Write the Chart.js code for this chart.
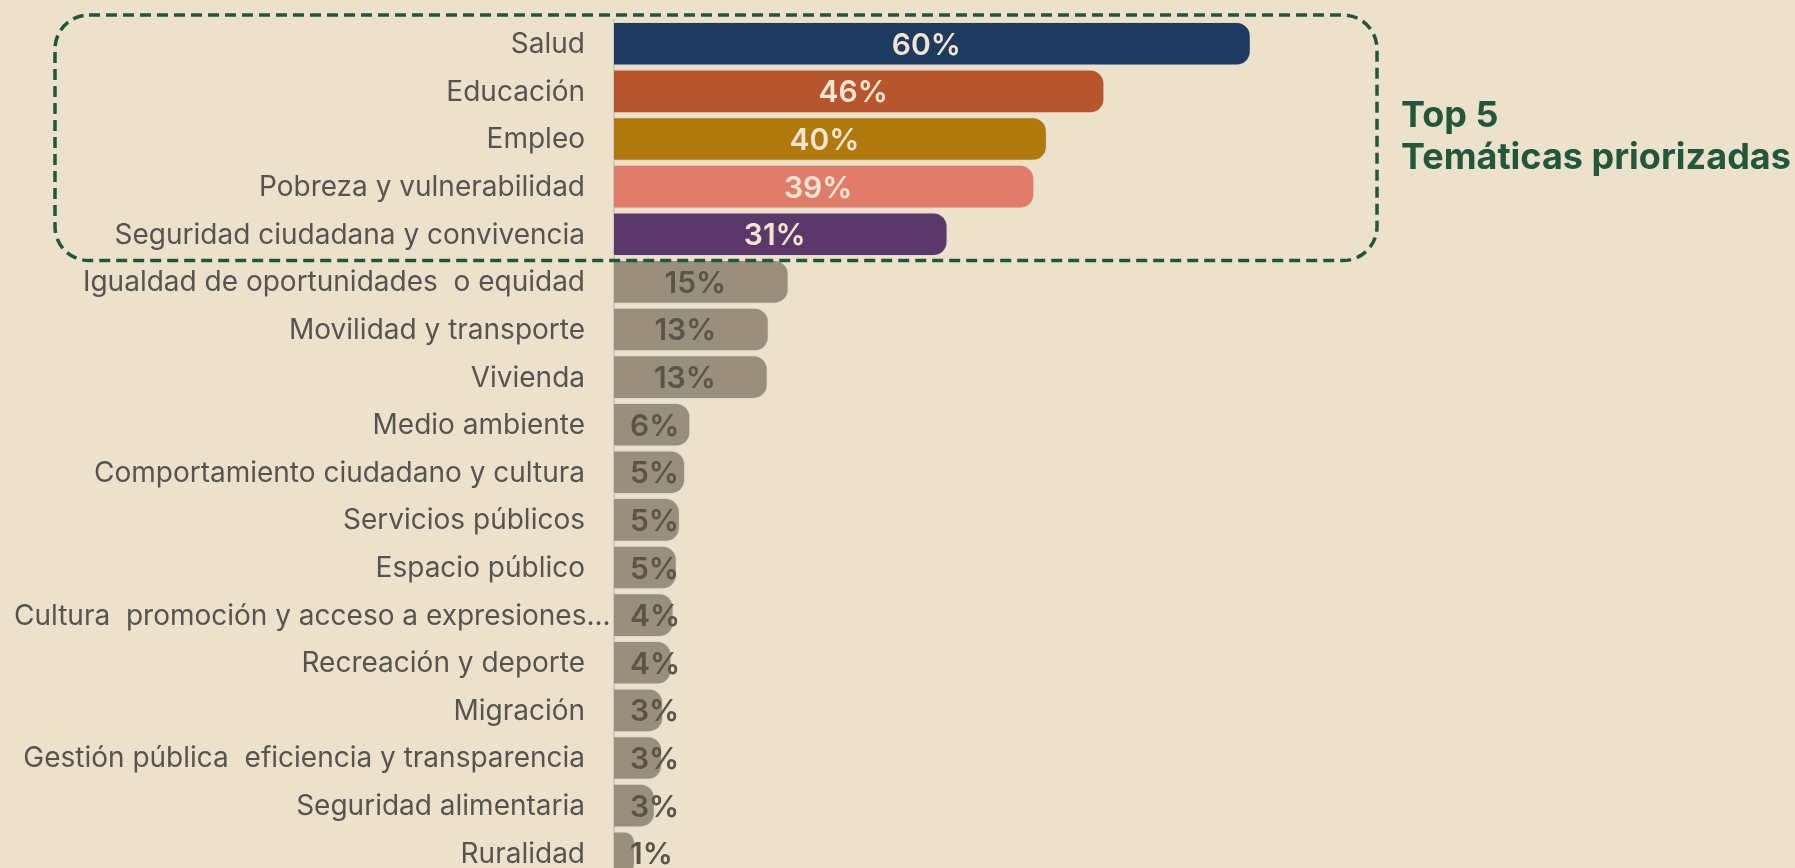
<!DOCTYPE html>
<html><head><meta charset="utf-8">
<script src="https://cdn.jsdelivr.net/npm/chart.js@4/dist/chart.umd.min.js"></script>
<style>
html,body{margin:0;padding:0;background:#ece2cc;overflow:hidden;}
#wrap{position:relative;width:1795px;height:900px;}
canvas{display:block;}
</style></head><body>
<div id="wrap"><canvas id="c" width="1795" height="900"></canvas></div>
<script>
const categories = [
  'Salud','Educación','Empleo','Pobreza y vulnerabilidad','Seguridad ciudadana y convivencia',
  'Igualdad de oportunidades  o equidad','Movilidad y transporte','Vivienda','Medio ambiente',
  'Comportamiento ciudadano y cultura','Servicios públicos','Espacio público',
  'Cultura  promoción y acceso a expresiones...','Recreación y deporte','Migración',
  'Gestión pública  eficiencia y transparencia','Seguridad alimentaria','Ruralidad'
];
const values = [60.0, 46.0, 40.5, 39.3, 31.0, 15.8, 13.9, 13.8, 6.4, 5.9, 5.4, 5.1, 4.8, 4.6, 3.8, 3.7, 3.0, 1.1];
const shownPct = [60, 46, 40, 39, 31, 15, 13, 13, 6, 5, 5, 5, 4, 4, 3, 3, 3, 1];
const topColors = ['#1f3a5f', '#b7552f', '#b0790e', '#df7c6a', '#5c3769'];
const otherColor = '#9a8f7c';
const topCount = 5;
const axisStart = -0.9;
const axisEnd = 100;
const calloutLines = ['Top 5', 'Temáticas priorizadas'];

const barColors = values.map((v, i) => i < topCount ? topColors[i] : otherColor);
const labelColors = values.map((v, i) => i < topCount ? '#efe5d1' : '#5c5447');

const overlay = {
  id: 'overlay',
  afterDatasetsDraw(chart) {
    const ctx = chart.ctx;
    const yS = chart.scales.y;
    // category labels
    ctx.save();
    ctx.font = '400 28px Inter';
    ctx.fillStyle = '#575450';
    ctx.textBaseline = 'middle';
    const rightEdge = 585, leftEdge = 14;
    categories.forEach((c, i) => {
      const y = yS.getPixelForValue(i);
      const w = ctx.measureText(c).width;
      if (w > rightEdge - leftEdge) { ctx.textAlign = 'left'; ctx.fillText(c, leftEdge, y + 1); }
      else { ctx.textAlign = 'right'; ctx.fillText(c, rightEdge, y + 1); }
    });
    // value labels
    const meta = chart.getDatasetMeta(0);
    ctx.font = '600 30px Inter';
    ctx.textAlign = 'center';
    meta.data.forEach((bar, i) => {
      const txt = shownPct[i] + '%';
      const w = ctx.measureText(txt).width;
      let cx = (bar.base + bar.x) / 2 - 6;
      cx = Math.max(cx, bar.base + 16 + w / 2);
      ctx.fillStyle = labelColors[i];
      ctx.fillText(txt, cx, bar.y + 2);
    });
    // dashed callout box around top 5
    const top = yS.top - 5;
    const bottom = (yS.getPixelForValue(topCount - 1) + yS.getPixelForValue(topCount)) / 2 + 2.5;
    const left = 55, right = 1377, r = 34;
    ctx.strokeStyle = '#24573a';
    ctx.lineWidth = 3.5;
    ctx.setLineDash([11, 6]);
    ctx.beginPath();
    ctx.moveTo(left + r, top);
    ctx.lineTo(right - r, top);
    ctx.arcTo(right, top, right, top + r, r);
    ctx.lineTo(right, bottom - r);
    ctx.arcTo(right, bottom, right - r, bottom, r);
    ctx.lineTo(left + r, bottom);
    ctx.arcTo(left, bottom, left, bottom - r, r);
    ctx.lineTo(left, top + r);
    ctx.arcTo(left, top, left + r, top, r);
    ctx.closePath();
    ctx.stroke();
    ctx.setLineDash([]);
    // callout text
    ctx.fillStyle = '#22573a';
    ctx.font = '700 36px Inter';
    ctx.textAlign = 'left';
    ctx.textBaseline = 'alphabetic';
    ctx.fillText(calloutLines[0], 1401, 127);
    ctx.fillText(calloutLines[1], 1401, 169);
    ctx.restore();
  }
};

new Chart(document.getElementById('c'), {
  type: 'bar',
  data: {
    labels: categories,
    datasets: [{
      data: values,
      backgroundColor: barColors,
      borderColor: 'rgba(222,216,204,0.9)',
      borderWidth: 1,
      borderRadius: 14,
      borderSkipped: 'start',
      base: axisStart,
      barPercentage: 0.916,
      categoryPercentage: 1
    }]
  },
  options: {
    indexAxis: 'y',
    responsive: false,
    animation: false,
    layout: { padding: { left: 0, right: 126, top: 20, bottom: 23 } },
    scales: {
      x: { display: false, min: axisStart, max: axisEnd },
      y: {
        display: true,
        afterFit(s) { s.width = 614; },
        ticks: { display: false },
        grid: { display: false, drawTicks: false },
        border: { display: true, color: '#cbc8c6', width: 2 }
      }
    },
    plugins: { legend: { display: false }, tooltip: { enabled: false } }
  },
  plugins: [overlay]
});
</script>
</body></html>
